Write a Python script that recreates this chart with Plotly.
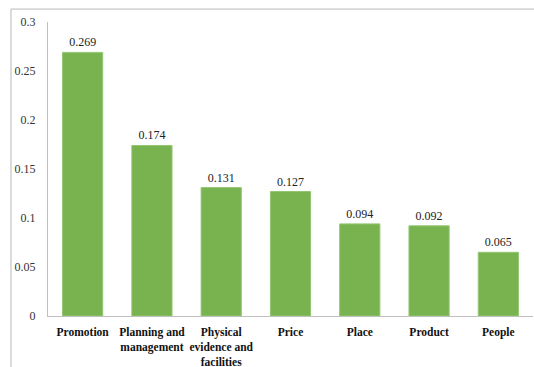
import plotly.graph_objects as go

categories = ["Promotion", "Planning and<br>management", "Physical<br>evidence and<br>facilities",
              "Price", "Place", "Product", "People"]
values = [0.269, 0.174, 0.131, 0.127, 0.094, 0.092, 0.065]
value_labels = ["0.269", "0.174", "0.131", "0.127", "0.094", "0.092", "0.065"]
y_ticks = [0, 0.05, 0.1, 0.15, 0.2, 0.25, 0.3]
y_tick_labels = ["0", "0.05", "0.1", "0.15", "0.2", "0.25", "0.3"]

SERIF = "Liberation Serif, Times New Roman, serif"

fig = go.Figure(go.Bar(
    x=categories, y=values,
    marker=dict(color="#78b350", line=dict(color="#92c672", width=1)),
    text=value_labels, textposition="outside", cliponaxis=False,
    textfont=dict(family=SERIF, size=12, color="#222222"),
))

fig.update_layout(
    width=534, height=367,
    margin=dict(l=48, r=1, t=22, b=51, autoexpand=False),
    paper_bgcolor="white", plot_bgcolor="white",
    bargap=0.42, showlegend=False,
    font=dict(family=SERIF, color="#222222"),
    xaxis=dict(showline=True, linecolor="#c0c0c0", linewidth=1, ticks="",
               tickangle=0, automargin=False, ticklabelstandoff=5,
               tickfont=dict(family=SERIF, size=11.5, color="#111111", weight="bold"),
               showgrid=False),
    yaxis=dict(range=[0, 0.3], tickvals=y_ticks, ticktext=y_tick_labels,
               showline=True, linecolor="#c0c0c0", linewidth=1, showgrid=False,
               zeroline=False, ticks="", ticklabelstandoff=9, automargin=False,
               tickfont=dict(family=SERIF, size=12, color="#333333")),
    shapes=[dict(type="rect", xref="paper", yref="paper",
                 x0=-0.0763, x1=1.01, y0=-0.2, y1=1.044,
                 line=dict(color="#b8b8b8", width=1), fillcolor="rgba(0,0,0,0)", layer="below")],
)

fig.write_html("out.html")
